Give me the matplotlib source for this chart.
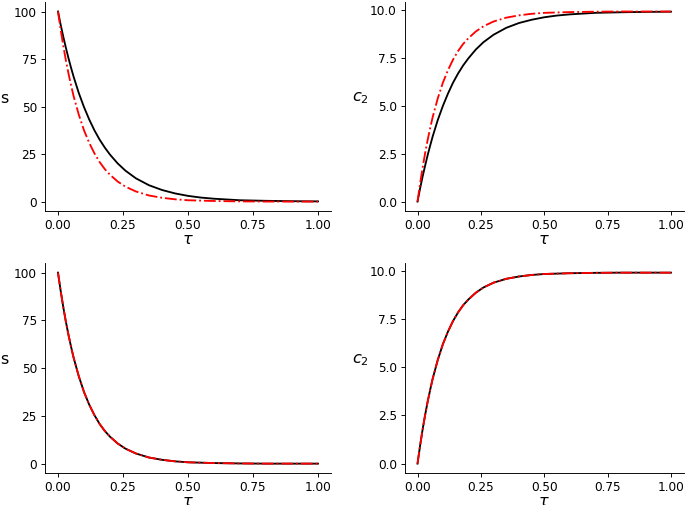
import matplotlib
matplotlib.use("Agg")
import matplotlib.pyplot as plt

# time grid (denser near zero where the curves are steep)
tau = [0.0, 0.01, 0.02, 0.03, 0.04, 0.05, 0.06, 0.08, 0.10, 0.12, 0.14,
       0.16, 0.18, 0.20, 0.23, 0.26, 0.30, 0.35, 0.40, 0.45, 0.50, 0.55,
       0.60, 0.70, 0.80, 0.90, 1.00]

# top row: reference (black) vs fitted model (red)
s_ref = [100, 93.2, 86.9, 81.1, 75.6, 70.5, 65.7, 57.1, 49.7, 43.2, 37.5,
         32.6, 28.4, 24.7, 20.0, 16.2, 12.2, 8.6, 6.1, 4.3, 3.0, 2.1,
         1.5, 0.7, 0.4, 0.2, 0.1]
s_fit = [100, 90.7, 82.2, 74.5, 67.6, 61.3, 55.5, 45.7, 37.5, 30.9, 25.4,
         20.8, 17.1, 14.1, 10.5, 7.8, 5.3, 3.2, 2.0, 1.2, 0.7, 0.5,
         0.3, 0.1, 0.0, 0.0, 0.0]
c2_ref = [0, 0.67, 1.30, 1.87, 2.42, 2.92, 3.40, 4.25, 4.98, 5.62, 6.19,
          6.67, 7.09, 7.45, 7.92, 8.30, 8.69, 9.05, 9.30, 9.47, 9.60, 9.69,
          9.75, 9.83, 9.86, 9.88, 9.89]
c2_fit = [0, 0.92, 1.76, 2.52, 3.21, 3.83, 4.41, 5.38, 6.19, 6.84, 7.39,
          7.84, 8.21, 8.50, 8.86, 9.13, 9.38, 9.58, 9.70, 9.78, 9.83, 9.85,
          9.87, 9.89, 9.90, 9.90, 9.90]

# bottom row: both curves overlap
s_ref2 = s_fit
s_fit2 = s_fit
c2_ref2 = c2_fit
c2_fit2 = c2_fit

s_ticks = [0, 25, 50, 75, 100]
c2_ticks = [0.0, 2.5, 5.0, 7.5, 10.0]
tau_ticks = [0, 0.25, 0.5, 0.75, 1.0]

fig = plt.figure(figsize=(685.01 / 83, 505.01 / 83), dpi=83)

boxes = [
    [0.0657, 0.582, 0.4175, 0.414],
    [0.591, 0.582, 0.407, 0.414],
    [0.0657, 0.063, 0.4175, 0.416],
    [0.591, 0.063, 0.407, 0.416],
]
panels = [
    (s_ref, s_fit, "s", s_ticks, "{:.0f}", -0.143),
    (c2_ref, c2_fit, "$c_2$", c2_ticks, "{:.1f}", -0.16),
    (s_ref2, s_fit2, "s", s_ticks, "{:.0f}", -0.143),
    (c2_ref2, c2_fit2, "$c_2$", c2_ticks, "{:.1f}", -0.16),
]

for box, (ref, fit, lab, yt, fmt, lx) in zip(boxes, panels):
    ax = fig.add_axes(box)
    ax.plot(tau, ref, color="black", lw=1.6)
    ax.plot(tau, fit, color="red", lw=1.6, ls="-.")
    ax.spines["top"].set_visible(False)
    ax.spines["right"].set_visible(False)
    ax.set_xticks(tau_ticks)
    ax.set_xticklabels(["{:.2f}".format(t) for t in tau_ticks])
    ax.set_yticks(yt)
    ax.set_yticklabels([fmt.format(v) for v in yt])
    ax.tick_params(labelsize=10.5)
    ax.set_xlabel(r"$\tau$", fontsize=14, labelpad=0)
    ax.set_ylabel(lab, fontsize=14, rotation=0, ha="center", va="center")
    ax.yaxis.set_label_coords(lx, 0.54)

fig.savefig("out.png", dpi=83)
